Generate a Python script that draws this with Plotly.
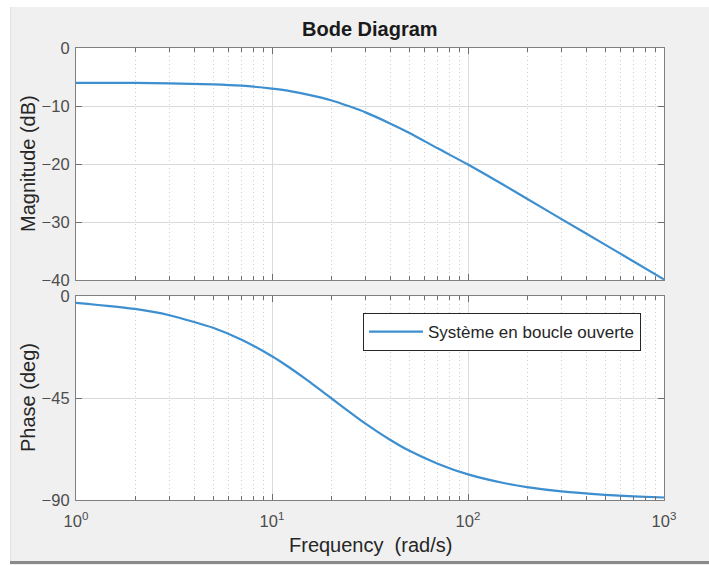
import plotly.graph_objects as go
from plotly.subplots import make_subplots

# Open-loop frequency response samples (rad/s, dB, deg)
freq = [1, 2, 3, 5, 7, 10, 12, 15, 20, 25, 30, 40, 50, 70, 100, 150, 200, 300, 500, 700, 1000]
magnitude_db = [-6.0, -6.03, -6.1, -6.26, -6.5, -7.0, -7.35, -8.0, -9.0, -10.1, -11.1, -13.0,
                -14.6, -17.3, -20.1, -23.5, -26.0, -29.5, -33.9, -36.8, -39.9]
phase_deg = [-3.0, -5.7, -8.5, -14.0, -19.3, -26.6, -31.0, -36.9, -45.0, -51.3, -56.3, -63.4,
             -68.2, -74.0, -78.7, -82.4, -84.3, -86.2, -87.7, -88.4, -88.9]

x_tickvals = [1, 10, 100, 1000]
x_ticktext = ["10<sup>0</sup>", "10<sup>1</sup>", "10<sup>2</sup>", "10<sup>3</sup>"]
x_minor = [m * 10 ** k for k in range(3) for m in range(2, 10)]
mag_ticks = [-40, -30, -20, -10, 0]
phase_ticks = [-90, -45, 0]

series_name = "Système en boucle ouverte"
curve_color = "#3d8fd0"
font_family = "Liberation Sans, Arial, sans-serif"

W, H = 709, 565
ML, MR, MT, MB = 76, 45, 48, 65
PW, PH = W - ML - MR, H - MT - MB


def px_x(px):
    return (px - ML) / PW


def px_y(py):
    return (H - MB - py) / PH


fig = make_subplots(rows=2, cols=1, shared_xaxes=False, vertical_spacing=0.0)

fig.add_trace(go.Scatter(x=freq, y=magnitude_db, mode="lines", name=series_name,
                         line=dict(color=curve_color, width=2.2, shape="spline", smoothing=0.6),
                         showlegend=False), row=1, col=1)
fig.add_trace(go.Scatter(x=freq, y=phase_deg, mode="lines", name=series_name,
                         line=dict(color=curve_color, width=2.2, shape="spline", smoothing=0.6),
                         showlegend=True), row=2, col=1)

axis_common = dict(showline=True, linecolor="#7f7f7f", linewidth=1.2, mirror="ticks",
                   ticks="inside", ticklen=6, tickcolor="#6f6f6f",
                   gridcolor="#dadada", gridwidth=1, zeroline=False,
                   tickfont=dict(family=font_family, size=16.5, color="#4d4d4d"))

x_common = dict(type="log", range=[0, 3], tickmode="array", tickvals=x_tickvals,
                ticktext=x_ticktext,
                minor=dict(tickmode="array", tickvals=x_minor, ticks="inside", ticklen=4,
                           tickcolor="#6f6f6f", showgrid=True, gridcolor="#cfcfcf",
                           griddash="1px,3px", gridwidth=1),
                **axis_common)

fig.update_xaxes(showticklabels=False, domain=[0, 1], **x_common, row=1, col=1)
fig.update_xaxes(showticklabels=True, domain=[0, 1], ticklabelstandoff=6, **x_common, row=2, col=1)

fig.update_yaxes(range=[-40, 0], tickmode="array", tickvals=mag_ticks,
                 domain=[px_y(280), 1], ticklabelstandoff=2, **axis_common, row=1, col=1)
fig.update_yaxes(range=[-90, 0], tickmode="array", tickvals=phase_ticks,
                 domain=[0, px_y(296)], ticklabelstandoff=2, **axis_common, row=2, col=1)

label_font = dict(family=font_family, size=20, color="#262626")

fig.update_layout(
    width=W, height=H,
    margin=dict(l=ML, r=MR, t=MT, b=MB),
    paper_bgcolor="#f0f0f0",
    plot_bgcolor="white",
    showlegend=True,
    legend=dict(x=px_x(363), y=px_y(313), xanchor="left", yanchor="top",
                bgcolor="white", bordercolor="#262626", borderwidth=1,
                itemwidth=54,
                font=dict(family=font_family, size=17, color="#262626")),
    annotations=[
        dict(text="<b>Bode Diagram</b>", x=px_x(370), y=px_y(29), xref="paper", yref="paper",
             showarrow=False, xanchor="center", yanchor="middle",
             font=dict(family=font_family, size=20, color="#1a1a1a")),
        dict(text="Magnitude (dB)", x=px_x(28), y=px_y(164), xref="paper", yref="paper",
             showarrow=False, textangle=-90, xanchor="center", yanchor="middle",
             font=label_font),
        dict(text="Phase (deg)", x=px_x(28), y=px_y(398), xref="paper", yref="paper",
             showarrow=False, textangle=-90, xanchor="center", yanchor="middle",
             font=label_font),
        dict(text="Frequency  (rad/s)", x=px_x(370), y=px_y(545), xref="paper", yref="paper",
             showarrow=False, xanchor="center", yanchor="middle", font=label_font),
    ],
    shapes=[
        # white surround and bottom shadow of the figure panel
        dict(type="rect", xref="paper", yref="paper", x0=px_x(0), x1=px_x(10),
             y0=px_y(H), y1=px_y(0), fillcolor="white", line=dict(width=0), layer="above"),
        dict(type="rect", xref="paper", yref="paper", x0=px_x(0), x1=px_x(W),
             y0=px_y(7), y1=px_y(0), fillcolor="white", line=dict(width=0), layer="above"),
        dict(type="line", xref="paper", yref="paper", x0=px_x(10.5), x1=px_x(10.5),
             y0=px_y(561), y1=px_y(7), line=dict(color="#e2e2e2", width=1), layer="above"),
        dict(type="rect", xref="paper", yref="paper", x0=px_x(10), x1=px_x(W),
             y0=px_y(564), y1=px_y(561), fillcolor="#8a8a8a", line=dict(width=0), layer="above"),
    ],
)

fig.write_html("out.html")
